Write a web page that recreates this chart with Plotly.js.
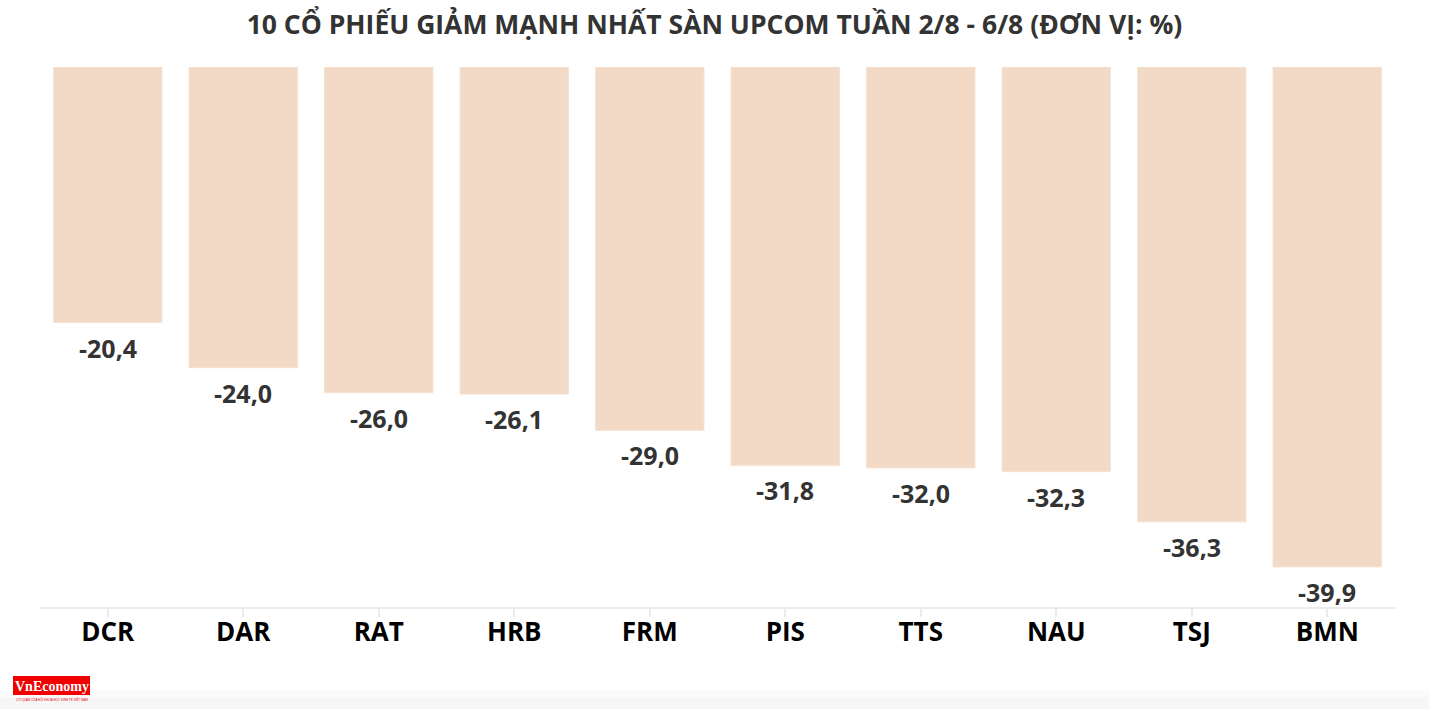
<!DOCTYPE html>
<html>
<head>
<meta charset="utf-8">
<script src="https://cdn.plot.ly/plotly-3.0.1.min.js"></script>
<style>
html,body{margin:0;padding:0;background:#fff;}
#chart{width:1429px;height:709px;}
</style>
</head>
<body>
<div id="chart"></div>
<script>
const titleText = '10 CỔ PHIẾU GIẢM MẠNH NHẤT SÀN UPCOM TUẦN 2/8 - 6/8 (ĐƠN VỊ: %)';
const tickers = ['DCR','DAR','RAT','HRB','FRM','PIS','TTS','NAU','TSJ','BMN'];
const changes = [-20.4,-24.0,-26.0,-26.1,-29.0,-31.8,-32.0,-32.3,-36.3,-39.9];
const labels = changes.map(v => v.toFixed(1).replace('.', ','));

const W = 1429, H = 709;
const M = {l: 40, r: 34, t: 67, b: 102};
const PW = W - M.l - M.r, PH = H - M.t - M.b;
const px = x => (x - M.l) / PW;
const py = y => (H - M.b - y) / PH;

const trace = {
  type: 'bar',
  x: tickers,
  y: changes,
  cliponaxis: false,
  marker: {color: '#f2dac7', line: {color: '#f5e2d3', width: 1}},
  hoverinfo: 'skip'
};

const annotations = tickers.map((t, i) => ({
  x: t, y: changes[i], xref: 'x', yref: 'y',
  text: labels[i], showarrow: false,
  xanchor: 'center', yanchor: 'middle', yshift: -25,
  font: {family: 'Open Sans, sans-serif', size: 25, color: '#333333', weight: 'bold'}
}));

annotations.push({
  xref: 'paper', yref: 'paper',
  x: px(51.5), y: py(686),
  text: '<b>VnEconomy</b>', showarrow: false,
  xanchor: 'center', yanchor: 'middle',
  font: {family: 'Liberation Serif, serif', size: 14, color: '#ffffff'}
});
annotations.push({
  xref: 'paper', yref: 'paper',
  x: px(51.5), y: py(699),
  text: 'CƠ QUAN CỦA HỘI KHOA HỌC KINH TẾ VIỆT NAM', showarrow: false,
  xanchor: 'center', yanchor: 'middle',
  font: {family: 'Liberation Sans, sans-serif', size: 3, color: '#e8000b'}
});

const layout = {
  width: W, height: H,
  margin: M,
  paper_bgcolor: '#ffffff',
  plot_bgcolor: '#ffffff',
  bargap: 0.2,
  showlegend: false,
  title: {
    text: titleText,
    x: 0.5, xanchor: 'center',
    y: 1 - 25 / H, yanchor: 'middle', yref: 'container',
    font: {family: 'Open Sans, sans-serif', size: 26.5, color: '#333333', weight: 'bold'}
  },
  xaxis: {
    type: 'category',
    showline: true, linecolor: '#ebebeb', linewidth: 2,
    ticks: 'outside', ticklen: 8, tickcolor: '#ebebeb', tickwidth: 2,
    ticklabelstandoff: -7,
    tickfont: {family: 'Open Sans, sans-serif', size: 26, color: '#000000', weight: 'bold'},
    showgrid: false, zeroline: false, fixedrange: true
  },
  yaxis: {
    range: [-43.1, 0],
    visible: false, showgrid: false, zeroline: false, fixedrange: true
  },
  shapes: [
    {type: 'rect', xref: 'paper', yref: 'paper', x0: px(0), x1: px(W), y0: py(709), y1: py(697),
     fillcolor: '#f6f6f6', line: {width: 0}, layer: 'below'},
    {type: 'rect', xref: 'paper', yref: 'paper', x0: px(0), x1: px(W), y0: py(697), y1: py(690),
     fillcolor: '#fbfbfb', line: {width: 0}, layer: 'below'},
    {type: 'rect', xref: 'paper', yref: 'paper', x0: px(13), x1: px(90), y0: py(695), y1: py(676),
     fillcolor: '#f00000', line: {width: 0}, layer: 'below'}
  ],
  annotations: annotations
};

Plotly.newPlot('chart', [trace], layout, {displayModeBar: false, staticPlot: true});
</script>
</body>
</html>
